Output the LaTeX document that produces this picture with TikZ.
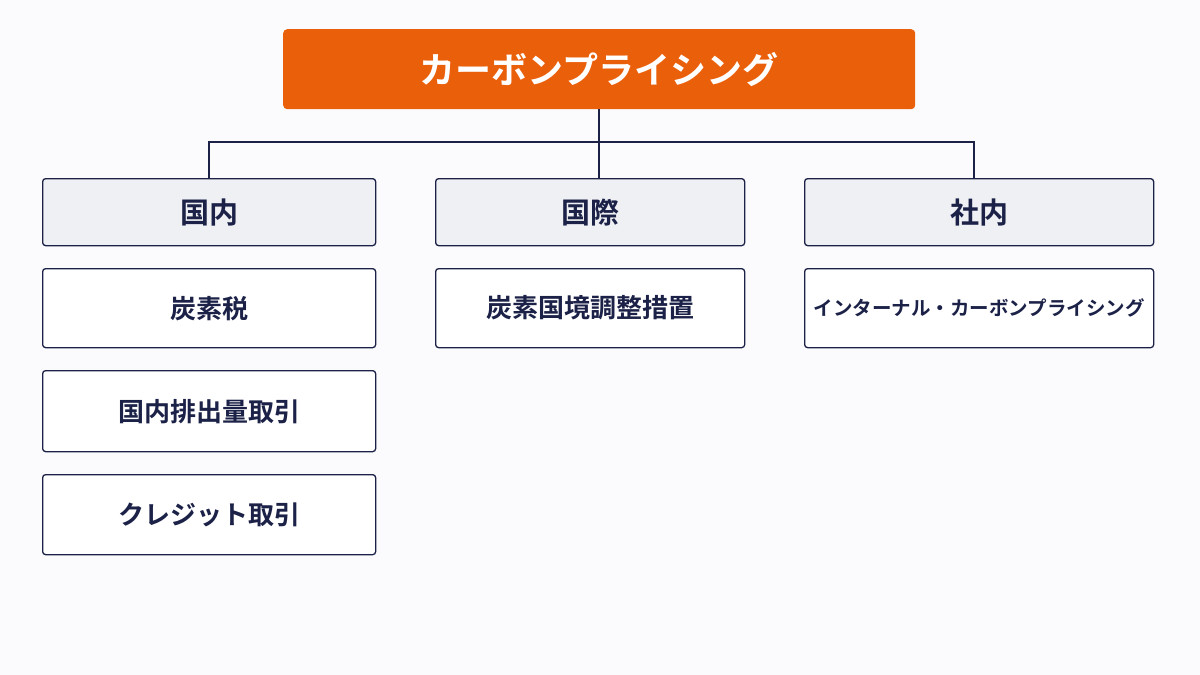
\documentclass[tikz,border=0pt]{standalone}
\usepackage{fontspec}
\newfontfamily\cjk{Noto Sans CJK JP}[BoldFont={Noto Sans CJK JP Bold}]
\definecolor{navy}{HTML}{1B2147}
\definecolor{orng}{HTML}{EA5F0A}
\definecolor{hdr}{HTML}{EFF0F3}
\definecolor{bg}{HTML}{FBFBFD}
\begin{document}
\begin{tikzpicture}[x=1pt,y=-1pt,
 box/.style={draw=navy,line width=1.3pt,rounded corners=3pt,anchor=north west,inner sep=0pt,font=\cjk\bfseries\color{navy}},
 head/.style={box,fill=hdr,font=\cjk\bfseries\fontsize{29}{33}\selectfont\color{navy}},
 item/.style={box,fill=white,font=\cjk\bfseries\fontsize{26}{30}\selectfont\color{navy}},
 conn/.style={draw=navy,line width=1.3pt}]
\fill[bg] (0,0) rectangle (1200,675);
\node[anchor=north west,fill=orng,rounded corners=4pt,minimum width=632pt,minimum height=80pt,inner sep=0pt,font=\cjk\bfseries\fontsize{36}{40}\selectfont,text=white] (top) at (283,29) {カーボンプライシング};
\node[head,minimum width=333pt,minimum height=67pt] (h1) at (42,178) {国内};
\node[head,minimum width=309pt,minimum height=67pt] (h2) at (435,178) {国際};
\node[head,minimum width=349pt,minimum height=67pt] (h3) at (804,178) {社内};
\node[item,minimum width=333pt,minimum height=79pt] (a1) at (42,268) {炭素税};
\node[item,minimum width=333pt,minimum height=81pt] (a2) at (42,370) {国内排出量取引};
\node[item,minimum width=333pt,minimum height=80pt] (a3) at (42,474) {クレジット取引};
\node[item,minimum width=309pt,minimum height=79pt] (b1) at (435,268) {炭素国境調整措置};
\node[item,minimum width=349pt,minimum height=79pt,font=\cjk\bfseries\fontsize{19.5}{23}\selectfont\color{navy}] (c1) at (804,268) {インターナル・カーボンプライシング};
\coordinate (j) at (599,142);
\draw[conn] (top.south -| j) -- (j);
\draw[conn] (j) -- (209,142) -- (209,178);
\draw[conn] (j) -- (974,142) -- (974,178);
\draw[conn] (j) -- (599,178);
\end{tikzpicture}
\end{document}
